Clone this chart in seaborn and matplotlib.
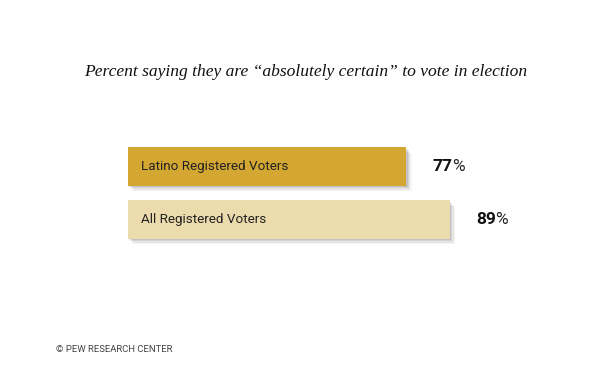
import matplotlib
matplotlib.use("Agg")
import matplotlib.pyplot as plt
import matplotlib.patheffects as pe
import seaborn as sns
import pandas as pd

categories = ["Latino Registered Voters", "All Registered Voters"]
values = [77, 89]
bar_colors = ["#D3A731", "#ECDBAC"]
title = "Percent saying they are \u201cabsolutely certain\u201d to vote in election"
footer = "\u00a9 PEW RESEARCH CENTER"

sns.set_theme(style="white")
plt.rcParams["font.family"] = ["Roboto", "DejaVu Sans"]

df = pd.DataFrame({"group": categories, "pct": values})

fig = plt.figure(figsize=(6.12, 3.75), dpi=100)
fig.patch.set_facecolor("white")
# axes: x 0..100 spans 362 px starting at px 127.5; categories centred at px 166.5 / 219.5
ax = fig.add_axes([127.5 / 612, (375 - 246) / 375, 362 / 612, 106 / 375])

sns.barplot(data=df, x="pct", y="group", hue="group", palette=bar_colors,
            orient="h", width=0.72, legend=False, ax=ax, saturation=1)

shadow = [
    pe.SimplePatchShadow(offset=(4, -4), shadow_rgbFace="#000000", alpha=0.04),
    pe.SimplePatchShadow(offset=(3, -3), shadow_rgbFace="#000000", alpha=0.06),
    pe.SimplePatchShadow(offset=(2, -2), shadow_rgbFace="#000000", alpha=0.08),
    pe.SimplePatchShadow(offset=(1, -1), shadow_rgbFace="#000000", alpha=0.08),
    pe.Normal(),
]
for p in ax.patches:
    p.set_path_effects(shadow)
    p.set_edgecolor("none")

ax.set_xlim(0, 100)
ax.set_ylim(1.5, -0.5)
ax.axis("off")

for i, (cat, v) in enumerate(zip(categories, values)):
    ax.text(3.6, i, cat, ha="left", va="center", fontsize=9.7, color="#222222")
    t = ax.annotate(str(v), xy=(v, i), xytext=(19, 0), textcoords="offset points",
                    ha="left", va="center", fontsize=12.5, fontweight="bold",
                    color="#111111", annotation_clip=False)
    ax.annotate("%", xy=(1, 0.5), xycoords=t, xytext=(-0.3, 0),
                textcoords="offset points", ha="left", va="center",
                fontsize=12.5, fontweight="normal", color="#222222",
                annotation_clip=False)

fig.text(306 / 612, 1 - 72 / 375, title, ha="center", va="center",
         fontsize=12.6, style="italic", family=["Liberation Serif", "DejaVu Serif"],
         color="#111111")
fig.text(56 / 612, 1 - 349 / 375, footer, ha="left", va="center",
         fontsize=6.8, color="#444444")

fig.savefig("out.png", dpi=100, facecolor="white")
